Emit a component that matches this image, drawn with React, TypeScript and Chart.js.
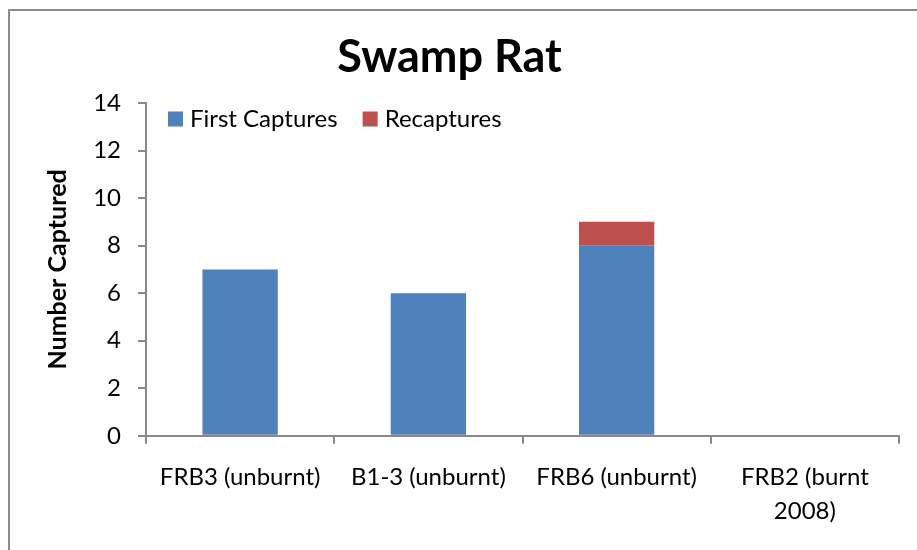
import React, { useEffect, useRef } from "react";
import { Chart, registerables } from "chart.js";

Chart.register(...registerables);

const categories: (string | string[])[] = [
  "FRB3 (unburnt)",
  "B1-3 (unburnt)",
  "FRB6 (unburnt)",
  ["FRB2 (burnt", "2008)"],
];
const firstCaptures = [7, 6, 8, 0];
const recaptures = [0, 0, 1, 0];
const seriesNames = ["First Captures", "Recaptures"];
const seriesColors = ["#4F81BD", "#C0504D"];

const FONT = "Lato, 'Open Sans', sans-serif";
const AXIS = "#898989";

const insideLegend = {
  id: "insideLegend",
  afterDraw(chart: any) {
    const ctx = chart.ctx;
    const area = chart.chartArea;
    ctx.save();
    ctx.font = `24px ${FONT}`;
    ctx.textBaseline = "middle";
    let x = area.left + 22;
    const y = area.top + 16;
    chart.data.datasets.forEach((ds: any) => {
      ctx.fillStyle = ds.backgroundColor;
      ctx.fillRect(x, y - 7.5, 15, 15);
      ctx.fillStyle = "#000";
      ctx.fillText(ds.label, x + 22, y);
      x += 22 + ctx.measureText(ds.label).width + 25;
    });
    ctx.restore();
  },
};

export default function App() {
  const ref = useRef<HTMLCanvasElement>(null);
  useEffect(() => {
    document.body.style.overflow = "hidden";
    const chart = new Chart(ref.current!, {
      type: "bar",
      data: {
        labels: categories,
        datasets: [
          {
            label: seriesNames[0],
            data: firstCaptures,
            backgroundColor: seriesColors[0],
            barPercentage: 0.4,
            categoryPercentage: 1,
          },
          {
            label: seriesNames[1],
            data: recaptures,
            backgroundColor: seriesColors[1],
            barPercentage: 0.4,
            categoryPercentage: 1,
          },
        ],
      },
      options: {
        animation: false,
        responsive: false,
        maintainAspectRatio: false,
        layout: { padding: { top: 30, right: 18, bottom: 5, left: 0 } },
        plugins: {
          legend: { display: false },
          tooltip: { enabled: false },
          title: {
            display: true,
            text: "Swamp Rat",
            color: "#000",
            font: { family: FONT, size: 45, weight: "bold" },
            padding: { top: 0, bottom: 19 },
          },
        },
        scales: {
          x: {
            stacked: true,
            border: { color: AXIS, width: 2 },
            grid: {
              display: true,
              drawOnChartArea: false,
              drawTicks: true,
              tickLength: 8,
              color: AXIS,
              lineWidth: 2,
              offset: true,
            },
            ticks: {
              color: "#000",
              font: { family: FONT, size: 24, lineHeight: 1.4 },
              maxRotation: 0,
              minRotation: 0,
              padding: 17,
            },
          },
          y: {
            stacked: true,
            min: 0,
            max: 14,
            border: { color: AXIS, width: 2 },
            grid: {
              display: true,
              drawOnChartArea: false,
              drawTicks: true,
              tickLength: 8,
              color: AXIS,
              lineWidth: 2,
            },
            ticks: {
              stepSize: 2,
              color: "#000",
              font: { family: FONT, size: 24 },
              padding: 17,
            },
            title: {
              display: true,
              text: "Number Captured",
              color: "#000",
              font: { family: FONT, size: 25, weight: "bold" },
              padding: { top: 43, bottom: 0 },
            },
            afterFit(scale: any) {
              scale.width = 146;
            },
          },
        },
      },
      plugins: [insideLegend],
    });
    return () => chart.destroy();
  }, []);
  return (
    <div>
      <div
        style={{
          position: "fixed",
          left: 8,
          top: 9,
          width: 940,
          height: 560,
          borderLeft: "2px solid #8a8a8a",
          borderTop: "2px solid #8a8a8a",
          boxSizing: "border-box",
        }}
      />
      <canvas
        ref={ref}
        width={917}
        height={550}
        style={{ position: "fixed", left: 0, top: 0, width: 917, height: 550 }}
      />
    </div>
  );
}
